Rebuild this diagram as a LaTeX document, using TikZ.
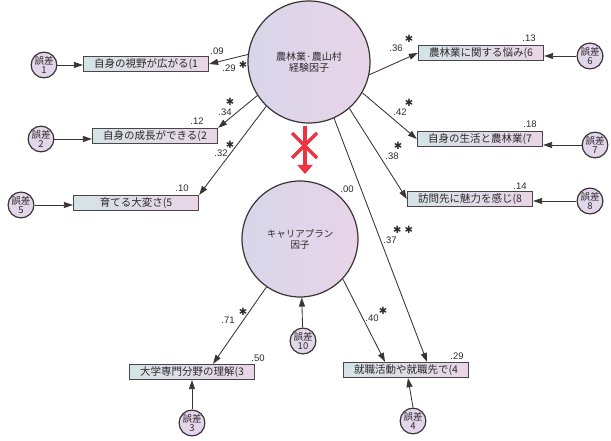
\documentclass[tikz,border=0pt]{standalone}
\usepackage{fontspec}
\usetikzlibrary{arrows.meta,calc}
\newfontfamily\jp{Noto Sans CJK JP}
\newfontfamily\numf{Liberation Sans}
\newfontfamily\symf{DejaVu Sans}
\definecolor{boxL}{HTML}{D4E3E6}
\definecolor{boxR}{HTML}{E9D5E6}
\definecolor{latL}{HTML}{D8D6EA}
\definecolor{latR}{HTML}{E8D4E8}
\definecolor{errF}{HTML}{E2D6EA}
\definecolor{linec}{HTML}{3A3434}
\definecolor{boxline}{HTML}{4A4646}
\definecolor{txt}{HTML}{2E2A2A}
\definecolor{redc}{HTML}{EE3340}
\tikzset{
  obs/.style={draw=boxline, line width=1.3pt, left color=boxL, right color=boxR,
    minimum width=125pt, minimum height=15pt, inner sep=0pt,
    font=\jp\fontsize{10.5}{12}\selectfont, text=txt},
  lat/.style={circle, draw=linec, line width=1.2pt, left color=latL, right color=latR,
    inner sep=0pt, align=center, text=txt},
  err/.style={circle, draw=linec, line width=1.2pt, fill=errF, minimum size=25pt,
    inner sep=0pt, align=center, text=txt, font=\jp\fontsize{9.5}{9.5}\selectfont},
  conn/.style={draw=linec, line width=0.85pt, -{Triangle[length=9pt,width=6pt]}},
  coef/.style={font=\numf\fontsize{9.5}{10}\selectfont, inner sep=0pt, text=txt},
  sig/.style={font=\symf\fontsize{10}{10}\selectfont, inner sep=0pt, text=txt},
}
\begin{document}
\begin{tikzpicture}[x=1pt,y=-1pt]
\useasboundingbox[fill=white] (0,0) rectangle (611,441);

% latent factors
\node[lat, minimum size=122pt, font=\jp\fontsize{10}{11}\selectfont] (F1) at (309,62) {農林業·農山村\\経験因子};
\node[lat, minimum size=116pt, font=\jp\fontsize{9.5}{11}\selectfont] (F2) at (300,239) {キャリアプラン\\因子};

% observed variables
\node[obs] (b1) at (146,64) {自身の視野が広がる(1};
\node[obs] (b2) at (155,136) {自身の成長ができる(2};
\node[obs] (b5) at (136,203) {育てる大変さ(5};
\node[obs] (b6) at (481,53) {農林業に関する悩み(6};
\node[obs] (b7) at (480,139) {自身の生活と農林業(7};
\node[obs] (b8) at (470,199) {訪問先に魅力を感じ(8};
\node[obs] (b3) at (192,372) {大学専門分野の理解(3};
\node[obs] (b4) at (406,370) {就職活動や就職先で(4};

% error terms
\node[err] (e1) at (44,65) {誤差\\1};
\node[err] (e2) at (41,139) {誤差\\2};
\node[err] (e5) at (21,205) {誤差\\5};
\node[err] (e6) at (590,56) {誤差\\6};
\node[err] (e7) at (595,145) {誤差\\7};
\node[err] (e8) at (590,201) {誤差\\8};
\node[err] (e3) at (192,423) {誤差\\3};
\node[err] (e4) at (413,421) {誤差\\4};
\node[err] (e10) at (303,341) {誤差\\10};

% paths from factor 1
\draw[conn] (F1.173) -- (b1.east);
\draw[conn] (F1.213) -- (b2.north east);
\draw[conn] (F1.226) -- (b5.north east);
\draw[conn] (F1.-12) -- (b6.west);
\draw[conn] (F1.-30) -- (b7.west);
\draw[conn] (F1.-49) -- (b8.west);
\draw[conn] (F1.-66) -- ($(b4.north)+(21,0)$);
% paths from factor 2
\draw[conn] (F2.235) -- ($(b3.north)+(21,0)$);
\draw[conn] (F2.-43) -- ($(b4.north)+(-21,0)$);

% error paths
\draw[conn] (e1) -- (e1 -| b1.west);
\draw[conn] (e2) -- (e2 -| b2.west);
\draw[conn] (e5) -- (e5 -| b5.west);
\draw[conn] (e6) -- (e6 -| b6.east);
\draw[conn] (e7) -- (e7 -| b7.east);
\draw[conn] (e8) -- (e8 -| b8.east);
\draw[conn] (e3) -- (e3 |- b3.south);
\draw[conn] (e4.north) -- ($(b4.south)+(2,0)$);
\draw[conn] (e10) -- (F2);

% red crossed arrow
\coordinate (rtop) at (305,126);
\coordinate (rbot) at (305,174);
\draw[redc, line width=3.5pt, -{Triangle[length=9pt,width=15pt]}] (rtop) -- (rbot);
\draw[redc, line width=3.5pt] (292,133) -- (317,158);
\draw[redc, line width=3.5pt] (317,133) -- (292,158);

% coefficients
\node[coef] (c1) at (217,51) {.09};
\node[coef] (c2) at (229,68) {.29};
\node[sig] (s2) at (243,65) {✱};
\node[coef] (c3) at (225,112) {.34};
\node[sig] (s3) at (230,102) {✱};
\node[coef] (c4) at (197,121) {.12};
\node[coef] (c5) at (221,153) {.32};
\node[sig] (s5) at (230,145) {✱};
\node[coef] (c6) at (182,188) {.10};
\node[coef] (c7) at (396,48) {.36};
\node[sig] (s7) at (409,39) {✱};
\node[coef] (c8) at (529,38) {.13};
\node[coef] (c9) at (400,112) {.42};
\node[sig] (s9) at (409,103) {✱};
\node[coef] (c10) at (530,124) {.18};
\node[coef] (c11) at (392,156) {.38};
\node[sig] (s11) at (398,146) {✱};
\node[coef] (c12) at (520,186) {.14};
\node[coef] (c13) at (347,189) {.00};
\node[coef] (c14) at (390,240) {.37};
\node[sig] (s14) at (403,230) {✱\hspace{3pt}✱};
\node[coef] (c15) at (228,320) {.71};
\node[sig] (s15) at (243,312) {✱};
\node[coef] (c16) at (258,358) {.50};
\node[coef] (c17) at (372,318) {.40};
\node[sig] (s17) at (383,311) {✱};
\node[coef] (c18) at (457,356) {.29};
\end{tikzpicture}
\end{document}
